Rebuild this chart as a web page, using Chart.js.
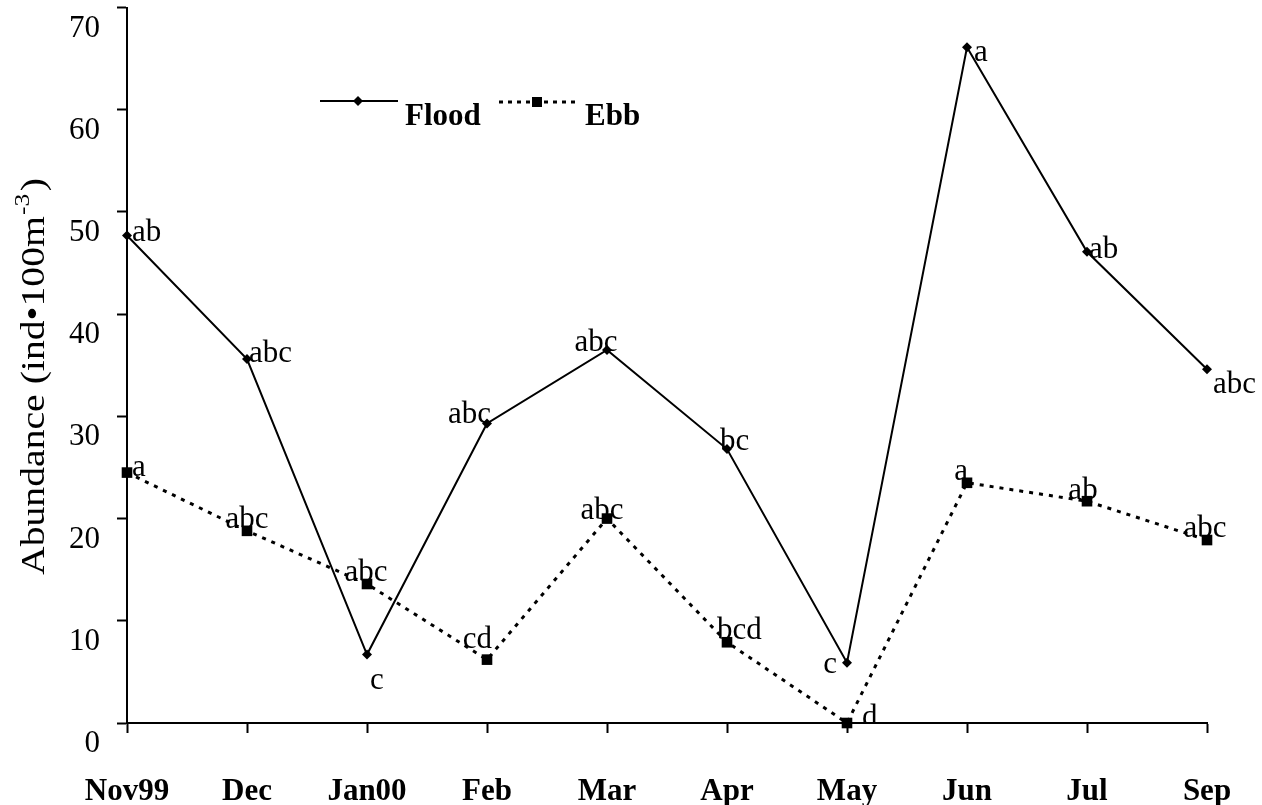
<!DOCTYPE html>
<html>
<head>
<meta charset="utf-8">
<script src="https://cdn.jsdelivr.net/npm/chart.js@4.4.1/dist/chart.umd.min.js"></script>
<style>
  html, body { margin: 0; padding: 0; background: #ffffff; }
  canvas { display: block; }
</style>
</head>
<body>
<canvas id="chart" width="1262" height="805"></canvas>
<script>
// Sampling months
const months = ['Nov99', 'Dec', 'Jan00', 'Feb', 'Mar', 'Apr', 'May', 'Jun', 'Jul', 'Sep'];
// Abundance (ind per 100 m^3) on flood and ebb tides
const flood = [47.7, 35.6, 6.7, 29.3, 36.5, 26.8, 5.9, 66.1, 46.1, 34.6];
const ebb   = [24.5, 18.8, 13.6, 6.2, 20.0, 7.9, 0.0, 23.5, 21.7, 17.9];
// Significance groupings printed beside each point
const floodLetters = ['ab', 'abc', 'c', 'abc', 'abc', 'bc', 'c', 'a', 'ab', 'abc'];
const ebbLetters   = ['a', 'abc', 'abc', 'cd', 'abc', 'bcd', 'd', 'a', 'ab', 'abc'];
// Y axis tick values
const yTicks = [0, 10, 20, 30, 40, 50, 60, 70];

// Placement of each letter label relative to its point: [dx, dy (baseline), align]
const floodPlace = [
  [5, 6, 'left'], [2, 3, 'left'], [10, 34, 'center'], [4, -1, 'right'], [-11, 1, 'center'],
  [-7, 1, 'left'], [-10, 10, 'right'], [7, 14, 'left'], [2, 6, 'left'], [6, 24, 'left']
];
const ebbPlace = [
  [5, 3, 'left'], [0, -3, 'center'], [-1, -3, 'center'], [5, -12, 'right'], [-5, 0, 'center'],
  [-10, -3, 'left'], [15, 3, 'left'], [1, -3, 'right'], [-4, -2, 'center'], [-2, -3, 'center']
];

const SERIF = '"Liberation Serif", "Times New Roman", serif';

// Letters next to points, clipped at the x axis
const letterLabels = {
  id: 'letterLabels',
  afterDatasetsDraw(chart) {
    const ctx = chart.ctx;
    const area = chart.chartArea;
    ctx.save();
    ctx.beginPath();
    ctx.rect(0, 0, chart.width, area.bottom - 1);
    ctx.clip();
    ctx.font = '31px ' + SERIF;
    ctx.fillStyle = '#000';
    ctx.textBaseline = 'alphabetic';
    const sets = [[floodLetters, floodPlace], [ebbLetters, ebbPlace]];
    sets.forEach(([letters, place], di) => {
      const meta = chart.getDatasetMeta(di);
      meta.data.forEach((pt, i) => {
        const [dx, dy, align] = place[i];
        ctx.textAlign = align;
        ctx.fillText(letters[i], pt.x + dx, pt.y + dy);
      });
    });
    ctx.restore();
  }
};

// Y axis title with superscript exponent, and the inline legend
const extras = {
  id: 'extras',
  afterDraw(chart) {
    const ctx = chart.ctx;
    const main = 'Abundance (ind\u2022100m';
    const sup = '-3';
    const close = ')';
    const bigFont = '34px ' + SERIF;
    const supFont = '22px ' + SERIF;
    ctx.save();
    ctx.font = bigFont;
    const wMain = ctx.measureText(main).width;
    const wClose = ctx.measureText(close).width;
    ctx.font = supFont;
    const wSup = ctx.measureText(sup).width;
    const total = wMain + wSup + 3 + wClose;
    const span = 397;
    // axis title, running bottom to top
    ctx.translate(44, 575);
    ctx.rotate(-Math.PI / 2);
    ctx.scale(span / total, 1);
    ctx.fillStyle = '#000';
    ctx.textAlign = 'left';
    ctx.textBaseline = 'alphabetic';
    ctx.font = bigFont;
    ctx.fillText(main, 0, 0);
    ctx.font = supFont;
    ctx.fillText(sup, wMain + 1, -15);
    ctx.font = bigFont;
    ctx.fillText(close, wMain + wSup + 3, 0);
    ctx.restore();

    // legend
    ctx.save();
    ctx.strokeStyle = '#000';
    ctx.fillStyle = '#000';
    ctx.lineWidth = 2;
    ctx.beginPath();
    ctx.moveTo(320, 101); ctx.lineTo(398, 101);
    ctx.stroke();
    ctx.beginPath();
    ctx.moveTo(353, 101); ctx.lineTo(358, 96); ctx.lineTo(363, 101); ctx.lineTo(358, 106);
    ctx.closePath(); ctx.fill();
    ctx.lineWidth = 3;
    ctx.setLineDash([4, 5]);
    ctx.beginPath();
    ctx.moveTo(499, 102); ctx.lineTo(577, 102);
    ctx.stroke();
    ctx.setLineDash([]);
    ctx.fillRect(532, 97, 10, 10);
    ctx.font = 'bold 31px ' + SERIF;
    ctx.textBaseline = 'alphabetic';
    ctx.textAlign = 'left';
    ctx.fillText('Flood', 405, 125);
    ctx.fillText('Ebb', 585, 125);
    ctx.restore();
  }
};

const axisGrid = {
  display: true,
  drawOnChartArea: false,
  drawTicks: true,
  tickLength: 10,
  tickWidth: 2,
  tickColor: '#000'
};
const axisBorder = { display: true, color: '#000', width: 2 };

new Chart(document.getElementById('chart'), {
  type: 'line',
  data: {
    labels: months,
    datasets: [
      {
        label: 'Flood',
        data: flood,
        borderColor: '#000',
        backgroundColor: '#000',
        borderWidth: 2,
        pointStyle: 'rectRot',
        pointRadius: 5,
        pointBorderWidth: 0,
        tension: 0,
        fill: false,
        clip: false
      },
      {
        label: 'Ebb',
        data: ebb,
        borderColor: '#000',
        backgroundColor: '#000',
        borderWidth: 3,
        borderDash: [4, 6],
        pointStyle: 'rect',
        pointRadius: 7.5,
        pointBorderWidth: 0,
        tension: 0,
        fill: false,
        clip: false
      }
    ]
  },
  options: {
    responsive: false,
    devicePixelRatio: 1,
    animation: false,
    layout: { padding: { top: 6, right: 55, bottom: 0, left: 0 } },
    plugins: {
      legend: { display: false },
      tooltip: { enabled: false },
      title: { display: false }
    },
    scales: {
      x: {
        type: 'category',
        offset: false,
        grid: axisGrid,
        border: axisBorder,
        ticks: {
          color: '#000',
          font: { family: SERIF, size: 31, weight: 'bold' },
          padding: 40,
          maxRotation: 0,
          autoSkip: false
        },
        afterFit(scale) {
          scale.height = 82;
          scale.paddingLeft = 0;
          scale.paddingRight = 0;
        }
      },
      y: {
        min: 0,
        max: 70,
        grid: axisGrid,
        border: axisBorder,
        ticks: {
          color: '#000',
          font: { family: SERIF, size: 31 },
          padding: 17,
          labelOffset: 21
        },
        afterBuildTicks(scale) {
          scale.ticks = yTicks.map(v => ({ value: v }));
        },
        afterFit(scale) {
          scale.width = 127;
          scale.paddingTop = 0;
          scale.paddingBottom = 0;
        }
      }
    }
  },
  plugins: [letterLabels, extras]
});
</script>
</body>
</html>
